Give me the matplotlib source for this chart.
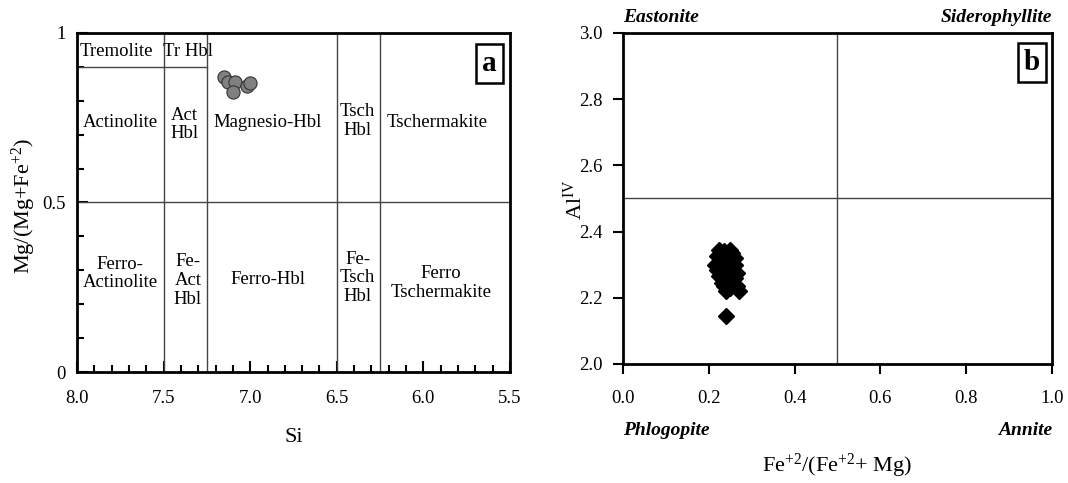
import matplotlib
matplotlib.use("Agg")
import matplotlib.pyplot as plt

plt.rcParams['font.family'] = ['Liberation Serif', 'DejaVu Serif']
plt.rcParams['mathtext.fontset'] = 'custom'
plt.rcParams['mathtext.rm'] = 'Liberation Serif'
plt.rcParams['mathtext.it'] = 'Liberation Serif:italic'

# amphibole (a)
amph_si = [7.15, 7.13, 7.09, 7.10, 7.02, 7.00]
amph_mg = [0.87, 0.855, 0.855, 0.825, 0.843, 0.852]

# biotite (b)
bt_fe = [0.225, 0.235, 0.25, 0.255, 0.245, 0.22, 0.23, 0.24, 0.26, 0.215, 0.225,
         0.235, 0.25, 0.26, 0.22, 0.23, 0.245, 0.255, 0.265, 0.225, 0.235, 0.25,
         0.26, 0.23, 0.24, 0.255, 0.235, 0.25, 0.265, 0.24, 0.27, 0.245, 0.24]
bt_al = [2.345, 2.34, 2.345, 2.335, 2.33, 2.325, 2.32, 2.315, 2.32, 2.30, 2.305,
         2.30, 2.305, 2.30, 2.285, 2.28, 2.285, 2.28, 2.275, 2.265, 2.26, 2.265,
         2.26, 2.245, 2.25, 2.245, 2.235, 2.23, 2.235, 2.22, 2.22, 2.24, 2.145]

# field boundaries
si_lines = [7.5, 7.25, 6.5, 6.25]
fields = [
    ("Tremolite", 7.77, 0.944), ("Tr Hbl", 7.36, 0.944),
    ("Actinolite", 7.75, 0.737), ("Act\nHbl", 7.38, 0.73),
    ("Magnesio-Hbl", 6.90, 0.737), ("Tsch\nHbl", 6.38, 0.74),
    ("Tschermakite", 5.92, 0.737),
    ("Ferro-\nActinolite", 7.75, 0.29), ("Fe-\nAct\nHbl", 7.36, 0.27),
    ("Ferro-Hbl", 6.90, 0.272), ("Fe-\nTsch\nHbl", 6.38, 0.278),
    ("Ferro\nTschermakite", 5.90, 0.263),
]

fig = plt.figure(figsize=(10.68, 4.83), dpi=100)
ax1 = fig.add_axes([0.0721, 0.2298, 0.4054, 0.7019])
ax2 = fig.add_axes([0.5833, 0.2464, 0.4017, 0.6853])

# ---- panel a
ax1.set_xlim(8.0, 5.5)
ax1.set_ylim(0, 1)
for s in si_lines:
    ax1.axvline(s, color='#444444', lw=1)
ax1.axhline(0.5, color='#444444', lw=1)
ax1.plot([8.0, 7.25], [0.9, 0.9], color='#444444', lw=1)
for txt, x, y in fields:
    ax1.text(x, y, txt, ha='center', va='center', fontsize=13.5, linespacing=1.12)
ax1.scatter(amph_si, amph_mg, s=90, c='#808080', edgecolors='#333333', linewidths=0.8, zorder=3)

ax1.set_xticks([8.0, 7.5, 7.0, 6.5, 6.0, 5.5])
ax1.set_xticklabels(['8.0', '7.5', '7.0', '6.5', '6.0', '5.5'])
ax1.set_xticks([8.0 - 0.1 * i for i in range(26)], minor=True)
ax1.set_yticks([0, 0.5, 1])
ax1.set_yticklabels(['0', '0.5', '1'])
ax1.set_yticks([0.1 * i for i in range(11)], minor=True)
ax1.tick_params(which='both', direction='in', top=False, right=False, labelsize=13.5, width=1.5)
ax1.tick_params(which='major', length=8)
ax1.tick_params(which='minor', length=5)
ax1.tick_params(axis='x', which='major', pad=13)
ax1.tick_params(axis='y', which='major', pad=8)
ax1.set_xlabel('Si', fontsize=16)
ax1.set_ylabel('Mg/(Mg+Fe$^{+2}$)', fontsize=16)
ax1.xaxis.set_label_coords(0.5, -0.165)
ax1.yaxis.set_label_coords(-0.09, 0.49)
for sp in ax1.spines.values():
    sp.set_linewidth(2)
ax1.text(0.953, 0.91, 'a', transform=ax1.transAxes, ha='center', va='center',
         fontsize=21, fontweight='bold',
         bbox=dict(boxstyle='square,pad=0.2', fc='white', ec='black', lw=1.8))

# ---- panel b
ax2.set_xlim(0, 1)
ax2.set_ylim(2.0, 3.0)
ax2.axvline(0.5, color='#444444', lw=1)
ax2.axhline(2.5, color='#444444', lw=1)
ax2.plot(bt_fe, bt_al, 'D', color='black', markersize=8, zorder=3)
ax2.set_xticks([0.0, 0.2, 0.4, 0.6, 0.8, 1.0])
ax2.set_xticklabels(['0.0', '0.2', '0.4', '0.6', '0.8', '1.0'])
ax2.set_yticks([2.0, 2.2, 2.4, 2.6, 2.8, 3.0])
ax2.set_yticklabels(['2.0', '2.2', '2.4', '2.6', '2.8', '3.0'])
ax2.tick_params(direction='out', top=False, right=False, labelsize=13.5, width=1.5, length=7)
ax2.tick_params(axis='x', pad=12)
ax2.tick_params(axis='y', pad=8)
ax2.set_xlabel(r'Fe$^{+2}$/(Fe$^{+2}$+ Mg)', fontsize=16)
ax2.set_ylabel(r'Al$^{\mathrm{IV}}$', fontsize=16)
ax2.xaxis.set_label_coords(0.5, -0.265)
ax2.yaxis.set_label_coords(-0.084, 0.495)
for sp in ax2.spines.values():
    sp.set_linewidth(2)
ax2.text(0.0, 1.048, 'Eastonite', transform=ax2.transAxes, ha='left', va='center',
         fontsize=14, fontweight='bold', fontstyle='italic')
ax2.text(1.0, 1.048, 'Siderophyllite', transform=ax2.transAxes, ha='right', va='center',
         fontsize=14, fontweight='bold', fontstyle='italic')
ax2.text(0.0, -0.2, 'Phlogopite', transform=ax2.transAxes, ha='left', va='center',
         fontsize=14, fontweight='bold', fontstyle='italic')
ax2.text(1.0, -0.2, 'Annite', transform=ax2.transAxes, ha='right', va='center',
         fontsize=14, fontweight='bold', fontstyle='italic')
ax2.text(0.953, 0.91, 'b', transform=ax2.transAxes, ha='center', va='center',
         fontsize=21, fontweight='bold',
         bbox=dict(boxstyle='square,pad=0.2', fc='white', ec='black', lw=1.8))

fig.savefig('out.png', dpi=100)
